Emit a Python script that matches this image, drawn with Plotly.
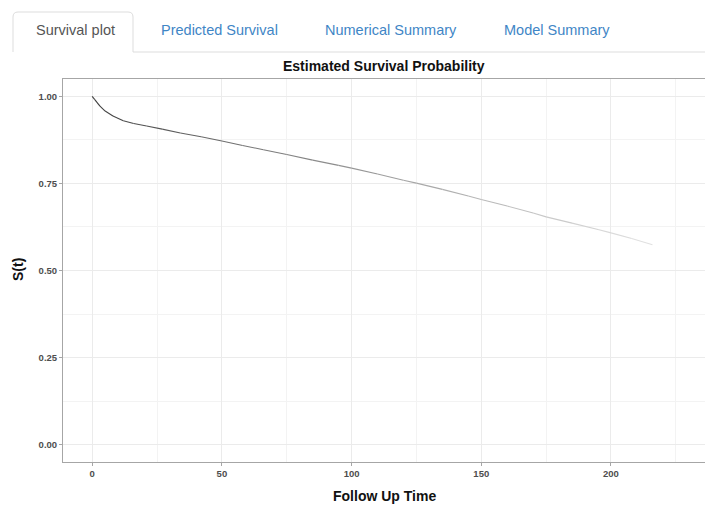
import plotly.graph_objects as go

# ---- data ----
follow_up_time = [0, 1, 3, 5, 8, 12, 16, 21, 27, 34, 42, 50, 58, 66, 75, 85, 95, 100,
                  110, 120, 125, 135, 145, 150, 160, 170, 175, 185, 195, 200, 208, 216]
survival_prob = [1.0, 0.991, 0.972, 0.958, 0.944, 0.930, 0.922, 0.915, 0.906, 0.895, 0.884,
                 0.872, 0.859, 0.847, 0.833, 0.817, 0.802, 0.794, 0.777, 0.759, 0.751, 0.733,
                 0.714, 0.704, 0.685, 0.665, 0.654, 0.636, 0.618, 0.608, 0.592, 0.574]
x_ticks = [0, 50, 100, 150, 200]
y_ticks = [0.0, 0.25, 0.5, 0.75, 1.0]
y_tick_labels = ["0.00", "0.25", "0.50", "0.75", "1.00"]
tab_labels = ["Survival plot", "Predicted Survival", "Numerical Summary", "Model Summary"]
tab_centers_px = [75, 219, 391, 557]

W, H = 705, 509
ML, MR, MT, MB = 63, 0, 79, 47
PW, PH = W - ML - MR, H - MT - MB

def px(x):
    return (x - ML) / PW

def py(y):
    return (H - MB - y) / PH

fig = go.Figure()

# survival curve drawn as segments whose grey fades with time
n = len(follow_up_time)
t_max = follow_up_time[-1]
for i in range(n - 1):
    frac = follow_up_time[i] / t_max
    g = int(60 + 170 * frac ** 0.8)
    fig.add_trace(go.Scatter(
        x=follow_up_time[i:i + 2], y=survival_prob[i:i + 2],
        mode="lines", line=dict(color=f"rgb({g},{g},{g})", width=1.1),
        showlegend=False, hoverinfo="skip"))

axis_font = dict(family="Liberation Sans, Arial, sans-serif", size=9.5, color="#4d4d4d",
                 weight="bold")
fig.update_xaxes(
    range=[-11.25, 236.25], tickvals=x_ticks, ticktext=[str(v) for v in x_ticks],
    showgrid=True, gridcolor="#ebebeb", gridwidth=1,
    minor=dict(dtick=25, tick0=25, showgrid=True, gridcolor="#f3f3f3", gridwidth=1, ticks=""),
    showline=True, linecolor="#a6a6a6", linewidth=1, mirror=True,
    ticks="outside", ticklen=3, tickcolor="#a6a6a6",
    tickfont=axis_font, zeroline=False)
fig.update_yaxes(
    range=[-0.05, 1.05], tickvals=y_ticks, ticktext=y_tick_labels,
    showgrid=True, gridcolor="#ebebeb", gridwidth=1,
    minor=dict(dtick=0.125, tick0=0.125, showgrid=True, gridcolor="#f3f3f3", gridwidth=1, ticks=""),
    showline=True, linecolor="#a6a6a6", linewidth=1, mirror=False,
    ticks="outside", ticklen=3, tickcolor="#a6a6a6",
    tickfont=axis_font, zeroline=False)

annotations = []
bold = "Liberation Sans, Arial, sans-serif"
annotations.append(dict(text="<b>Estimated Survival Probability</b>", x=px(384), y=py(66),
                        xref="paper", yref="paper", showarrow=False,
                        font=dict(family=bold, size=14, color="#111111"),
                        xanchor="center", yanchor="middle"))
annotations.append(dict(text="<b>Follow Up Time</b>", x=px(384), y=py(496),
                        xref="paper", yref="paper", showarrow=False,
                        font=dict(family=bold, size=14, color="#111111"),
                        xanchor="center", yanchor="middle"))
annotations.append(dict(text="<b>S(t)</b>", x=px(18), y=py(270), textangle=-90,
                        xref="paper", yref="paper", showarrow=False,
                        font=dict(family=bold, size=14, color="#111111"),
                        xanchor="center", yanchor="middle"))
for i, (lab, cx) in enumerate(zip(tab_labels, tab_centers_px)):
    annotations.append(dict(text=lab, x=px(cx), y=py(30), xref="paper", yref="paper",
                            showarrow=False, xanchor="center", yanchor="middle",
                            font=dict(family="Liberation Sans, Arial, sans-serif", size=14.5,
                                      color="#555555" if i == 0 else "#3f86c6")))

shapes = []
# active tab outline with rounded top corners
tab_path = (f"M {px(13)},{py(52)} L {px(13)},{py(17)} Q {px(13)},{py(12)} {px(18)},{py(12)} "
            f"L {px(128)},{py(12)} Q {px(133)},{py(12)} {px(133)},{py(17)} L {px(133)},{py(52)}")
shapes.append(dict(type="path", path=tab_path, xref="paper", yref="paper",
                   line=dict(color="#dddddd", width=1)))
shapes.append(dict(type="line", x0=px(133), x1=px(705), y0=py(52), y1=py(52),
                   xref="paper", yref="paper", line=dict(color="#dddddd", width=1)))

fig.update_layout(
    width=W, height=H, margin=dict(l=ML, r=MR, t=MT, b=MB),
    paper_bgcolor="white", plot_bgcolor="white",
    annotations=annotations, shapes=shapes, showlegend=False)

fig.write_html("out.html")
